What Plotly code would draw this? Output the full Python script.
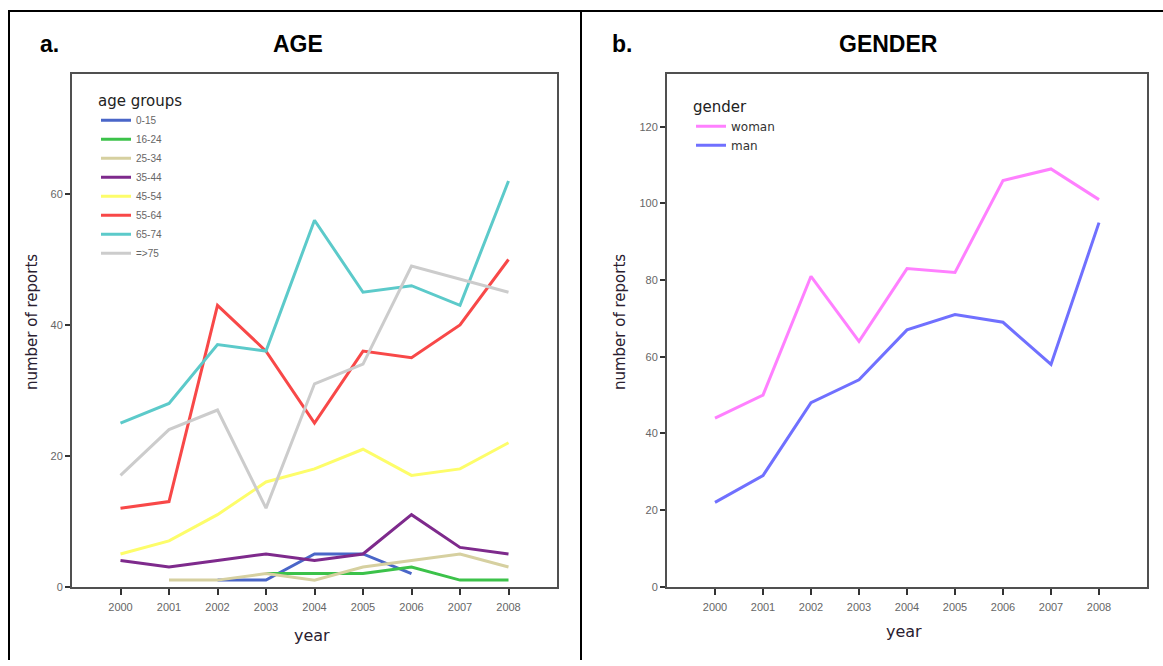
import plotly.graph_objects as go

W, H = 1163, 666

years = [2000, 2001, 2002, 2003, 2004, 2005, 2006, 2007, 2008]

age_groups = ["0-15", "16-24", "25-34", "35-44", "45-54", "55-64", "65-74", "=>75"]
age_0_15 = [None, None, 1, 1, 5, 5, 2, None, None]
age_16_24 = [None, None, None, 2, 2, 2, 3, 1, 1]
age_25_34 = [None, 1, 1, 2, 1, 3, 4, 5, 3]
age_35_44 = [4, 3, 4, 5, 4, 5, 11, 6, 5]
age_45_54 = [5, 7, 11, 16, 18, 21, 17, 18, 22]
age_55_64 = [12, 13, 43, 36, 25, 36, 35, 40, 50]
age_65_74 = [25, 28, 37, 36, 56, 45, 46, 43, 62]
age_75_plus = [17, 24, 27, 12, 31, 34, 49, 47, 45]
age_series = [age_0_15, age_16_24, age_25_34, age_35_44, age_45_54,
              age_55_64, age_65_74, age_75_plus]
age_colors = ["#4a66c8", "#3cc24a", "#d6d0a0", "#7e2a8c", "#fdfd6a",
              "#f84848", "#5ccaca", "#cccccc"]

genders = ["woman", "man"]
woman = [44, 50, 81, 64, 83, 82, 106, 109, 101]
man = [22, 29, 48, 54, 67, 71, 69, 58, 95]
gender_colors = ["#ff80ff", "#7070ff"]

age_yticks = [0, 20, 40, 60]
gender_yticks = [0, 20, 40, 60, 80, 100, 120]


def px_x(p):
    return p / W


def px_y(p):
    return 1 - p / H


fig = go.Figure()

for name, vals, col in zip(age_groups, age_series, age_colors):
    fig.add_trace(go.Scatter(x=years, y=vals, name=name, mode="lines",
                             line=dict(color=col, width=3),
                             xaxis="x", yaxis="y", legend="legend"))

for name, vals, col in zip(genders, [woman, man], gender_colors):
    fig.add_trace(go.Scatter(x=years, y=vals, name=name, mode="lines",
                             line=dict(color=col, width=3),
                             xaxis="x2", yaxis="y2", legend="legend2"))

axis_common = dict(showgrid=False, zeroline=False, showline=True, mirror=True,
                   linecolor="#505050", linewidth=2,
                   ticks="outside", tickcolor="#333333", tickwidth=2,
                   tickfont=dict(family="Liberation Sans, Arial", size=11, color="#666666"))

L_left, L_right, top, bottom = 72, 557, 75, 592
R_left, R_right = 667, 1147

fig.update_layout(
    width=W, height=H,
    margin=dict(l=0, r=0, t=0, b=0),
    paper_bgcolor="white", plot_bgcolor="white",
    showlegend=True,
    xaxis=dict(domain=[px_x(L_left), px_x(L_right)], range=[1999, 2009],
               tickvals=years, ticklen=6, ticklabelstandoff=3, anchor="y", **axis_common),
    yaxis=dict(domain=[px_y(bottom), px_y(top)], range=[0, 78.3],
               tickvals=age_yticks, ticklen=5, anchor="x", **axis_common),
    xaxis2=dict(domain=[px_x(R_left), px_x(R_right)], range=[1999, 2009],
                tickvals=years, ticklen=6, ticklabelstandoff=3, anchor="y2", **axis_common),
    yaxis2=dict(domain=[px_y(bottom), px_y(top)], range=[0, 133.7],
                tickvals=gender_yticks, ticklen=5, anchor="x2", **axis_common),
    legend=dict(x=px_x(96), y=px_y(87), xanchor="left", yanchor="top",
                bgcolor="rgba(0,0,0,0)", tracegroupgap=0,
                title=dict(text="age groups", font=dict(family="DejaVu Sans", size=15, color="#222222")),
                font=dict(family="Liberation Sans, Arial", size=10, color="#666666")),
    legend2=dict(x=px_x(691), y=px_y(93), xanchor="left", yanchor="top",
                 bgcolor="rgba(0,0,0,0)", tracegroupgap=0,
                 title=dict(text="gender", font=dict(family="DejaVu Sans", size=15, color="#222222")),
                 font=dict(family="DejaVu Sans", size=12, color="#333333")),
)

# outer table borders
shapes = [
    dict(type="line", xref="paper", yref="paper", x0=px_x(8), x1=1, y0=px_y(11), y1=px_y(11),
         line=dict(color="black", width=2)),
    dict(type="line", xref="paper", yref="paper", x0=px_x(9), x1=px_x(9), y0=px_y(11), y1=0,
         line=dict(color="black", width=2)),
    dict(type="line", xref="paper", yref="paper", x0=px_x(581), x1=px_x(581), y0=px_y(11), y1=0,
         line=dict(color="black", width=2)),
]
fig.update_layout(shapes=shapes)

annotations = [
    dict(text="<b>a.</b>", x=px_x(38), y=px_y(44), xanchor="left", yanchor="middle"),
    dict(text="<b>AGE</b>", x=px_x(298), y=px_y(44), xanchor="center", yanchor="middle"),
    dict(text="<b>b.</b>", x=px_x(610), y=px_y(44), xanchor="left", yanchor="middle"),
    dict(text="<b>GENDER</b>", x=px_x(888), y=px_y(44), xanchor="center", yanchor="middle"),
]
for a in annotations:
    a.update(xref="paper", yref="paper", showarrow=False,
             font=dict(family="Liberation Sans, Arial", size=23, color="black"))

for xc in (32, 620):
    annotations.append(dict(text="number of reports", x=px_x(xc), y=px_y(325),
                            xref="paper", yref="paper", showarrow=False, textangle=-90,
                            xanchor="center", yanchor="middle",
                            font=dict(family="DejaVu Sans", size=15, color="#2a2030")))
for xc, yc in ((312, 641), (904, 637)):
    annotations.append(dict(text="year", x=px_x(xc), y=px_y(yc),
                            xref="paper", yref="paper", showarrow=False,
                            xanchor="center", yanchor="middle",
                            font=dict(family="DejaVu Sans", size=16, color="#2a2030")))
fig.update_layout(annotations=annotations)

fig.write_html("out.html")
